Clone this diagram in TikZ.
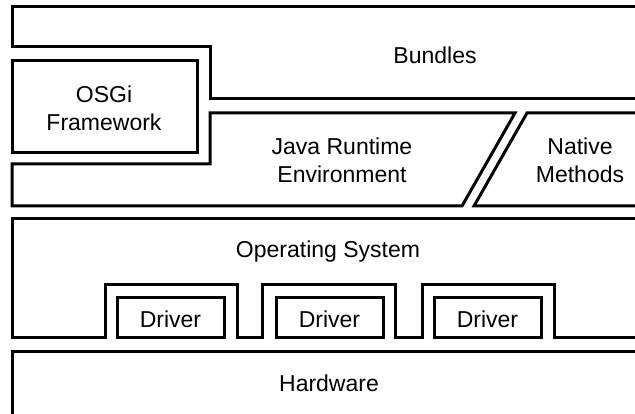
\documentclass[tikz,border=0pt]{standalone}
\usepackage{fontspec}
\setmainfont{Liberation Sans}
\begin{document}
\begin{tikzpicture}[x=1pt,y=-1pt,
  part/.style={draw=black,line width=3pt,line join=miter},
  lbl/.style={font=\fontsize{23}{28}\selectfont,align=center,inner sep=0pt}]
\useasboundingbox (0,0) rectangle (635,414);
\begin{scope}
\clip (0,0) rectangle (635,414);
% Bundles
\draw[part] (700,7) -- (12,7) -- (12,47) -- (210,47) -- (210,99) -- (700,99);
% OSGi framework
\draw[part] (12,61) rectangle (197,153);
% Java Runtime Environment
\draw[part] (515,113) -- (210,113) -- (210,164) -- (12,164) -- (12,206) -- (462,206) -- cycle;
% Native methods
\draw[part] (700,113) -- (527,113) -- (474,206) -- (700,206);
% Operating system
\draw[part] (700,219) -- (12,219) -- (12,337) -- (105,337) -- (105,285) -- (237,285) -- (237,337)
  -- (262,337) -- (262,285) -- (395,285) -- (395,337) -- (422,337) -- (422,285) -- (554,285)
  -- (554,337) -- (700,337);
% Drivers
\draw[part] (117,298) rectangle (224,337);
\draw[part] (276,298) rectangle (383,337);
\draw[part] (434,298) rectangle (541,337);
% Hardware
\draw[part] (700,351) -- (12,351) -- (12,500);
\end{scope}
\node[lbl] (bundles) at (435,55) {Bundles};
\node[lbl] (osgi) at (104,108) {OSGi\\Framework};
\node[lbl] (jre) at (342,160) {Java Runtime\\Environment};
\node[lbl] (native) at (580,160) {Native\\Methods};
\node[lbl] (os) at (328,252) {Operating System};
\node[lbl] (d1) at (170.5,319) {Driver};
\node[lbl] (d2) at (329.5,319) {Driver};
\node[lbl] (d3) at (487.5,319) {Driver};
\node[lbl] (hw) at (329,383) {Hardware};
\end{tikzpicture}
\end{document}
